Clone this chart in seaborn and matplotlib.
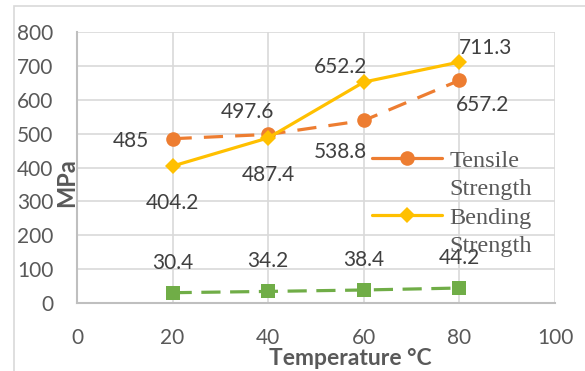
import pandas as pd
import matplotlib.pyplot as plt
import seaborn as sns
from matplotlib.lines import Line2D
from matplotlib.patches import Rectangle

temperature = [20, 40, 60, 80]
tensile = [485, 497.6, 538.8, 657.2]
bending = [404.2, 487.4, 652.2, 711.3]
third = [30.4, 34.2, 38.4, 44.2]
x_ticks = [0, 20, 40, 60, 80, 100]
y_ticks = [0, 100, 200, 300, 400, 500, 600, 700, 800]

df = pd.DataFrame({"temp": temperature, "tensile": tensile, "bending": bending, "third": third})

sns.set_style("white")
plt.rcParams['font.family'] = ['Lato', 'DejaVu Sans']

fig = plt.figure(figsize=(5.85, 3.71), dpi=100)
ax = fig.add_axes([77 / 585, 1 - 303 / 371, (555 - 77) / 585, (303 - 32) / 371])

orange = "#ED7D31"
gold = "#FFC000"
green = "#70AD47"

sns.lineplot(data=df, x="temp", y="tensile", ax=ax, color=orange, lw=2.3,
             marker="o", markersize=10.5, markeredgewidth=0)
ax.lines[-1].set_dashes((6, 3.8))
sns.lineplot(data=df, x="temp", y="bending", ax=ax, color=gold, lw=2.3,
             marker="D", markersize=8.5, markeredgewidth=0)
sns.lineplot(data=df, x="temp", y="third", ax=ax, color=green, lw=2.3,
             marker="s", markersize=10, markeredgewidth=0)
ax.lines[-1].set_dashes((6, 3))

ax.set_xlim(0, 100)
ax.set_ylim(0, 800)
ax.set_xticks(x_ticks)
ax.set_yticks(y_ticks)
ax.grid(True, color="#d9d9d9", lw=1.2)
ax.set_axisbelow(True)
for s in ["top", "right"]:
    ax.spines[s].set_visible(False)
for s in ["left", "bottom"]:
    ax.spines[s].set_color("#bfbfbf")
    ax.spines[s].set_linewidth(1.5)
ax.tick_params(axis="both", length=0, labelsize=15, colors="#595959")
ax.tick_params(axis="x", pad=18)
ax.tick_params(axis="y", pad=17)

ax.set_xlabel("Temperature °C", fontsize=16.5, fontweight="bold", color="#595959")
ax.set_ylabel("MPa", fontsize=17, fontweight="bold", color="#595959")
ax.xaxis.set_label_coords((350 - 77) / 478, -(348 - 303) / 271)
ax.yaxis.set_label_coords(-(77 - 78) / 478, (303 - 183) / 271)

lab_kw = dict(textcoords="offset pixels", ha="center", va="center", fontsize=15, color="#404040")
ten_off = [(-42, -2), (-21, 22), (-23, -32), (23, -25)]
ben_off = [(0, -37), (0, -37), (-23, 15), (26, 14)]
for x, y, o in zip(temperature, tensile, ten_off):
    ax.annotate(f"{y:g}", (x, y), xytext=o, **lab_kw)
for x, y, o in zip(temperature, bending, ben_off):
    ax.annotate(f"{y:g}", (x, y), xytext=o, **lab_kw)
for x, y in zip(temperature, third):
    ax.annotate(f"{y:g}", (x, y), xytext=(0, 30), **lab_kw)

blank = Line2D([], [], color="none")
handles = [Line2D([], [], color=orange, lw=2.3, marker="o", markersize=10.5, markeredgewidth=0),
           blank,
           Line2D([], [], color=gold, lw=2.3, marker="D", markersize=8.5, markeredgewidth=0),
           blank]
labels = ["Tensile", "Strength", "Bending", "Strength"]
leg = ax.legend(handles, labels, loc="upper left", bbox_to_anchor=(350 / 585, 1 - 128 / 371),
                bbox_transform=fig.transFigure, frameon=False, handlelength=2.9,
                handletextpad=0.29, labelspacing=0.26,
                prop={"family": "Liberation Serif", "size": 17.5})
for t in leg.get_texts():
    t.set_color("#595959")

fig.patches.append(Rectangle((14 / 585, -0.1), 1, 1 - 6 / 371 + 0.1, transform=fig.transFigure,
                             fill=False, edgecolor="#d9d9d9", lw=1.2))

fig.savefig("out.png", dpi=100)
